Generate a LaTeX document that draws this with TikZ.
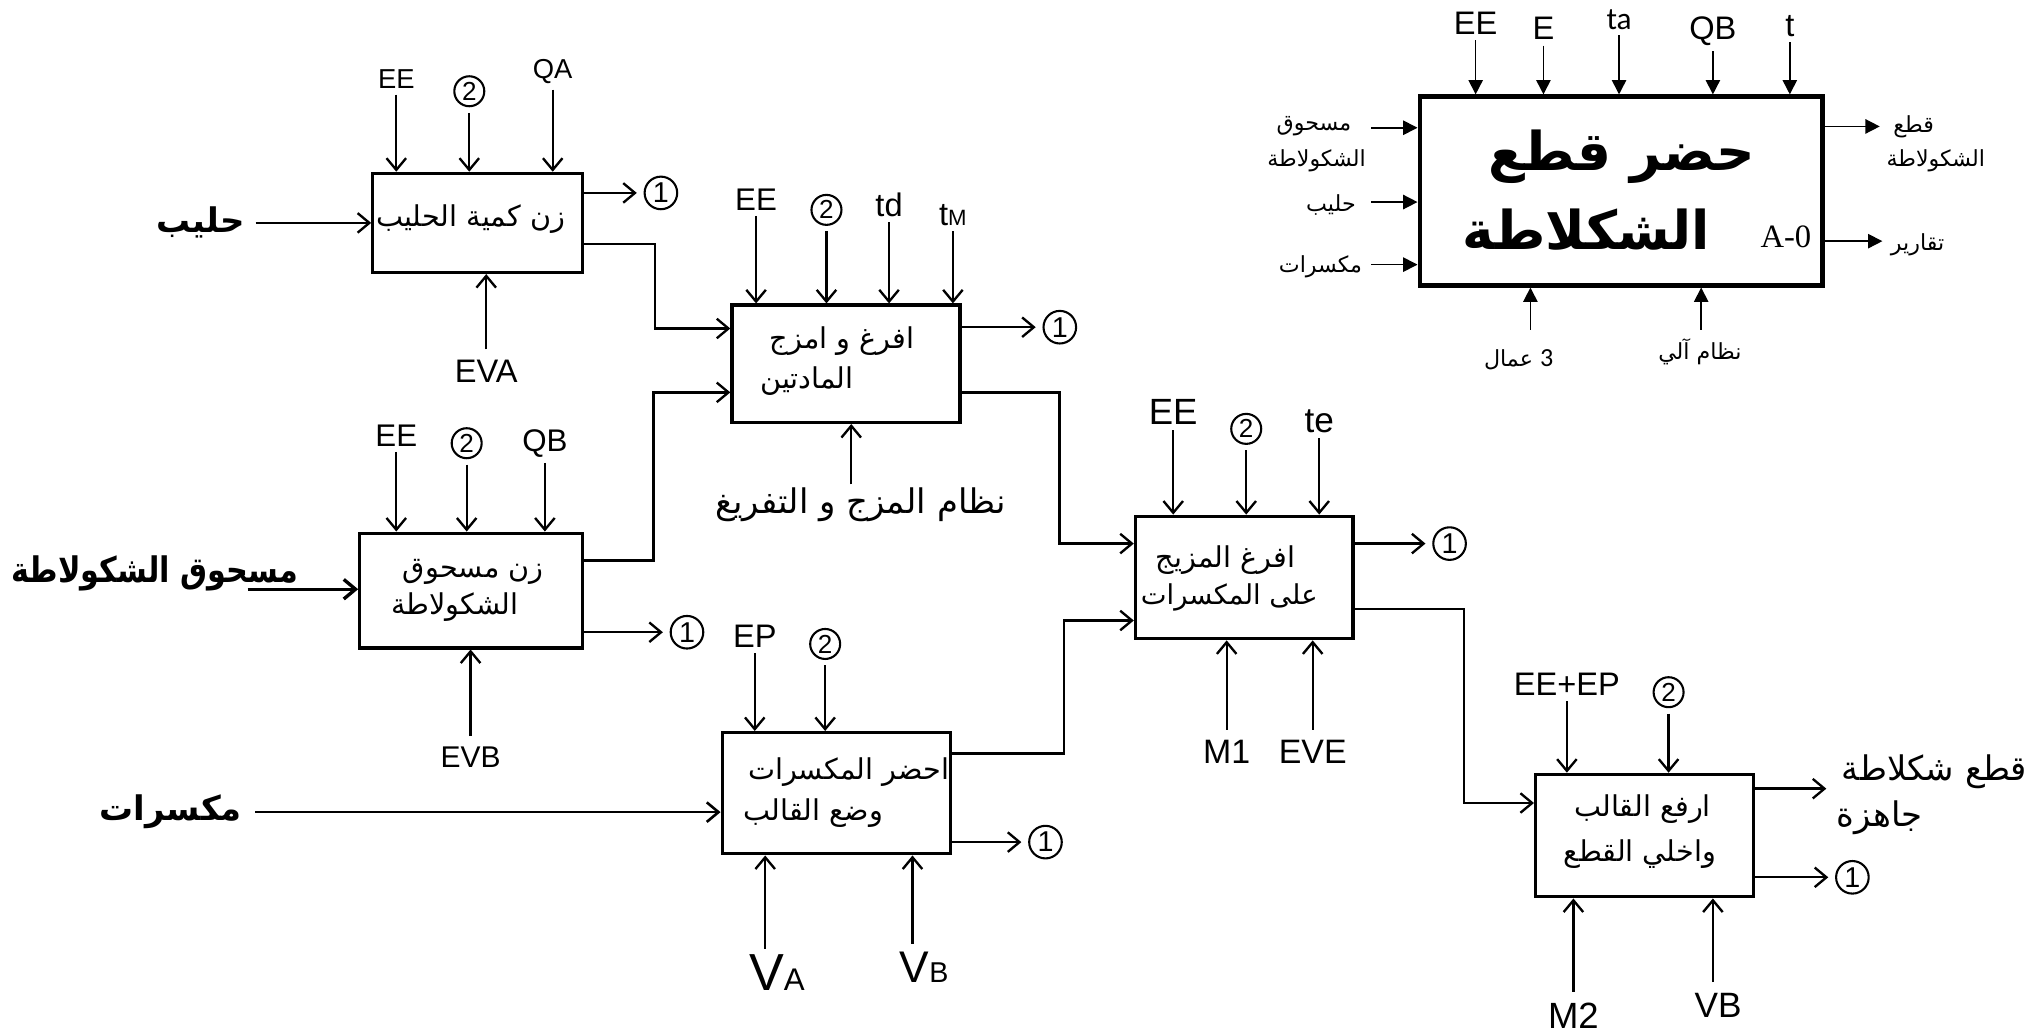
\documentclass[tikz,border=0pt]{standalone}
\usepackage{fontspec}
\setmainfont{Liberation Sans}
\newfontfamily\arabicfont[Script=Arabic]{DejaVu Sans}
\newfontfamily\timesfont{Liberation Serif}
\newfontfamily\calibfont{Carlito}
\TeXXeTstate=1
\usepackage{tikz}
\usetikzlibrary{arrows.meta, positioning}

\newcommand{\sz}[1]{\fontsize{#1}{#1}\selectfont}

\tikzset{
    box/.style={draw, line width=1.25pt, inner sep=0pt},
    arr/.style={-{Straight Barb[length=4.5pt,width=7.5pt]}, line width=0.9pt},
    arrz/.style={-{Triangle[length=5.5pt,width=5.5pt]}, line width=0.6pt},
    lab/.style={inner sep=2pt},
    mlab/.style={inner sep=4pt},
    ar/.style={inner sep=1pt, font=\arabicfont\sz{11pt}},
    one/.style={circle, draw, line width=0.8pt, inner sep=0pt, minimum size=12.5pt, outer sep=3pt, font=\sz{11pt}},
    two/.style={circle, draw, line width=0.8pt, inner sep=0pt, minimum size=11.5pt, outer sep=2.5pt, font=\sz{10pt}}
}

\begin{document}
\begin{tikzpicture}[x=0.5pt, y=-0.5pt]
    \fill[white] (0,0) rectangle (1568,792);
    \useasboundingbox (0,0) rectangle (1568,792);

    % the six activity boxes
    \node[box, minimum width=80.5pt, minimum height=38pt] (a1) at (366.5,171) {};
    \node[box, minimum width=87.5pt, minimum height=45pt] (a2) at (649,279) {};
    \node[box, minimum width=85.5pt, minimum height=44pt] (a3) at (361.5,453) {};
    \node[box, minimum width=83.5pt, minimum height=47pt] (a4) at (954.5,443) {};
    \node[box, minimum width=87.5pt, minimum height=46.5pt] (a5) at (641.5,608.5) {};
    \node[box, minimum width=83.5pt, minimum height=47pt] (a6) at (1261.5,641) {};

    \node[ar] (t1) at (361,168) {\beginR زن كمية الحليب\endR};
    \node[ar] (t2a) at (646,262) {\beginR افرغ و امزج\endR};
    \node[ar] (t2b) at (619,292) {\beginR المادتين\endR};
    \node[ar] (t3a) at (363,439) {\beginR زن مسحوق\endR};
    \node[ar] (t3b) at (349,466) {\beginR الشكولاطة\endR};
    \node[ar] (t4a) at (940,430) {\beginR افرغ المزيج\endR};
    \node[ar, font=\arabicfont\sz{10.5pt}] (t4b) at (943,458) {\beginR على المكسرات\endR};
    \node[ar] (t5a) at (651,592) {\beginR احضر المكسرات\endR};
    \node[ar] (t5b) at (624,624) {\beginR وضع القالب\endR};
    \node[ar] (t6a) at (1260,621) {\beginR ارفع القالب\endR};
    \node[ar] (t6b) at (1258,655) {\beginR واخلي القطع\endR};

    % box 1
    \node[lab, font=\sz{10.5pt}] (ee1) at (304,61) {EE};
    \node[two] (c1) at (360,70) {2};
    \node[lab, font=\sz{10.5pt}] (qa1) at (424,55) {QA};
    \draw[arr] (ee1) -- (ee1 |- a1.north);
    \draw[arr] (c1) -- (c1 |- a1.north);
    \draw[arr] (qa1) -- (qa1 |- a1.north);
    \node[ar, font=\arabicfont\bfseries\sz{13pt}, inner sep=4pt] (milk) at (154,171) {\beginR حليب\endR};
    \draw[arr] (milk) -- (milk -| a1.west);
    \node[one] (o1) at (507,148) {1};
    \draw[arr] (o1 -| a1.east) -- (o1);
    \draw[arr] ([yshift=-8pt]a1.east) -- ++(54,0) |- ([yshift=13.5pt]a2.west);
    \node[mlab, font=\sz{12.5pt}] (eva) at (373,285) {EVA};
    \draw[arr] (eva) -- (eva |- a1.south);

    % box 2
    \node[lab, font=\sz{12pt}] (ee2) at (580,153) {EE};
    \node[two] (c2) at (634,161) {2};
    \node[lab, font=\sz{12.5pt}] (td2) at (682,157) {td};
    \node[lab, font=\sz{12.5pt}] (tm2) at (731,165) {t{\sz{8.5pt}M}};
    \draw[arr] (ee2) -- (ee2 |- a2.north);
    \draw[arr] (c2) -- (c2 |- a2.north);
    \draw[arr] (td2) -- (td2 |- a2.north);
    \draw[arr] (tm2) -- (tm2 |- a2.north);
    \node[one] (o2) at (813,251) {1};
    \draw[arr] (o2 -| a2.east) -- (o2);
    \draw[arr] ([yshift=-11pt]a2.east) -- ++(75,0) |- ([yshift=13pt]a4.west);
    \node[ar, font=\arabicfont\sz{13pt}] (mixsys) at (660,387) {\beginR نظام المزج و التفريغ\endR};
    \draw[arr] ([xshift=-3.5pt]mixsys.north) -- ([xshift=-3.5pt]mixsys.north |- a2.south);

    % box 3
    \node[lab, font=\sz{12pt}] (ee3) at (304,334) {EE};
    \node[two] (c3) at (358,340) {2};
    \node[lab, font=\sz{12pt}] (qb3) at (418,340) {QB};
    \draw[arr] (ee3) -- (ee3 |- a3.north);
    \draw[arr] (c3) -- (c3 |- a3.north);
    \draw[arr] (qb3) -- (qb3 |- a3.north);
    \node[anchor=east, inner sep=0pt, font=\arabicfont\bfseries\sz{13.5pt}] (choc) at (229,440) {\scalebox{0.86}[1]{\beginR مسحوق الشكولاطة\endR}};
    \coordinate (chocin) at (190,452);
    \draw[arr, line width=1.3pt] (chocin) -- (chocin -| a3.west);
    \draw[arr] ([yshift=11.5pt]a3.east) -- ++(53,0) |- ([yshift=-11pt]a2.west);
    \node[one] (o3) at (527,485) {1};
    \draw[arr] (o3 -| a3.east) -- (o3);
    \node[mlab, font=\sz{11.5pt}] (evb) at (361,581) {EVB};
    \draw[arr] (evb) -- (evb |- a3.south);

    % box 4
    \node[lab, font=\sz{14pt}] (ee4) at (900,316) {EE};
    \node[two] (c4) at (956,329) {2};
    \node[lab, font=\sz{13.5pt}] (te4) at (1012,323) {te};
    \draw[arr] (ee4) -- (ee4 |- a4.north);
    \draw[arr] (c4) -- (c4 |- a4.north);
    \draw[arr] (te4) -- (te4 |- a4.north);
    \node[one] (o4) at (1112,417) {1};
    \draw[arr] (o4 -| a4.east) -- (o4);
    \draw[arr] ([yshift=-12pt]a4.east) -- ++(84,0) |- ([yshift=12.5pt]a6.west);
    \node[mlab, font=\sz{13pt}] (m1) at (941,577) {M1};
    \node[mlab, font=\sz{13pt}] (eve) at (1007,577) {EVE};
    \draw[arr] (m1) -- (m1 |- a4.south);
    \draw[arr] (eve) -- (eve |- a4.south);

    % box 5
    \node[lab, font=\sz{12.5pt}] (ep5) at (579,488) {EP};
    \node[two] (c5) at (633,494) {2};
    \draw[arr] (ep5) -- (ep5 |- a5.north);
    \draw[arr] (c5) -- (c5 |- a5.north);
    \node[ar, font=\arabicfont\bfseries\sz{13pt}, inner sep=5pt] (nuts) at (131,623) {\beginR مكسرات\endR};
    \draw[arr, line width=1pt] (nuts) -- (nuts -| a5.west);
    \draw[arr] ([yshift=15.25pt]a5.east) -- ++(86,0) |- ([yshift=-16.5pt]a4.west);
    \node[one] (o5) at (802,646) {1};
    \draw[arr] (o5 -| a5.east) -- (o5);
    \node[mlab, inner sep=2pt, font=\sz{20pt}] (va) at (596,746) {V{\sz{12pt}A}};
    \node[mlab, inner sep=3pt, font=\sz{17pt}] (vb) at (709,742) {V{\sz{11pt}B}};
    \draw[arr] ([xshift=-4.5pt]va.north) -- ([xshift=-4.5pt]va.north |- a5.south);
    \draw[arr] ([xshift=-4.5pt]vb.north) -- ([xshift=-4.5pt]vb.north |- a5.south);

    % box 6
    \node[lab, font=\sz{12.5pt}] (eep6) at (1202,525) {EE+EP};
    \node[two] (c6) at (1280,531) {2};
    \draw[arr] (eep6) -- (eep6 |- a6.north);
    \draw[arr] (c6) -- (c6 |- a6.north);
    \node[ar, font=\arabicfont\sz{13pt}] (ready1) at (1484,592) {\beginR قطع شكلاطة\endR};
    \node[ar, font=\arabicfont\sz{13pt}] (ready2) at (1442,627) {\beginR جاهزة\endR};
    \coordinate (pout) at (1401,605);
    \draw[arr] (pout -| a6.east) -- (pout);
    \node[one] (o6) at (1421,673) {1};
    \draw[arr] (o6 -| a6.east) -- (o6);
    \node[mlab, font=\sz{14pt}] (m2) at (1207,779) {M2};
    \node[mlab, font=\sz{13.5pt}] (vb6) at (1318,771) {VB};
    \draw[arr] (m2) -- (m2 |- a6.south);
    \draw[arr] ([xshift=-2pt]vb6.north) -- ([xshift=-2pt]vb6.north |- a6.south);

    % context box A-0
    \node[box, line width=1.6pt, minimum width=154.5pt, minimum height=72.5pt] (a0) at (1243.5,146.5) {};
    \node[inner sep=0pt, font=\arabicfont\bfseries\sz{20.5pt}] (ttl1) at (1244,120) {\beginR حضر قطع\endR};
    \node[inner sep=0pt, font=\arabicfont\bfseries\sz{20.5pt}] (ttl2) at (1217,176) {\beginR الشكلاطة\endR};
    \node[inner sep=0pt, font=\timesfont\sz{12.5pt}] (aname) at (1370,182) {A-0};

    \node[lab, font=\sz{12.5pt}] (ee0) at (1132,18) {EE};
    \node[lab, font=\sz{12.5pt}] (e0) at (1184,22) {E};
    \node[lab, font=\calibfont\sz{12pt}] (ta0) at (1242,15) {ta};
    \node[lab, font=\sz{12.5pt}] (qb0) at (1314,24) {QB};
    \node[lab, font=\sz{12.5pt}] (t0) at (1373,20) {t};
    \draw[arrz] (ee0) -- (ee0 |- a0.north);
    \draw[arrz] (e0) -- (e0 |- a0.north);
    \draw[arrz] (ta0) -- (ta0 |- a0.north);
    \draw[arrz] (qb0) -- (qb0 |- a0.north);
    \draw[arrz] (t0) -- (t0 |- a0.north);

    \node[ar, font=\arabicfont\sz{8.5pt}] (pw0a) at (1008,97) {\beginR مسحوق\endR};
    \node[ar, font=\arabicfont\sz{8.5pt}] (pw0b) at (1010,123) {\beginR الشكولاطة\endR};
    \node[ar, font=\arabicfont\sz{8.5pt}] (mk0) at (1021,157) {\beginR حليب\endR};
    \node[ar, font=\arabicfont\sz{8.5pt}] (nt0) at (1013,205) {\beginR مكسرات\endR};
    \coordinate (i1) at (1052,98);
    \coordinate (i2) at (1052,155);
    \coordinate (i3) at (1052,203);
    \draw[arrz] (i1) -- (i1 -| a0.west);
    \draw[arrz] (i2) -- (i2 -| a0.west);
    \draw[arrz] (i3) -- (i3 -| a0.west);

    \node[ar, font=\arabicfont\sz{8.5pt}] (pc0a) at (1468,97) {\beginR قطع\endR};
    \node[ar, font=\arabicfont\sz{8.5pt}] (pc0b) at (1485,123) {\beginR الشكولاطة\endR};
    \node[ar, font=\arabicfont\sz{8.5pt}] (rep0) at (1471,188) {\beginR تقارير\endR};
    \coordinate (r1) at (1442,97);
    \coordinate (r2) at (1444,185);
    \draw[arrz] (r1 -| a0.east) -- (r1);
    \draw[arrz] (r2 -| a0.east) -- (r2);

    \node[ar, font=\arabicfont\sz{8.5pt}] (wk0) at (1165,276) {\beginR{\calibfont\sz{10pt}3} عمال\endR};
    \node[ar, font=\arabicfont\sz{8.5pt}] (auto0) at (1304,270) {\beginR نظام آلي\endR};
    \coordinate (b1) at (1174,253);
    \coordinate (b2) at (1305,253);
    \draw[arrz] (b1) -- (b1 |- a0.south);
    \draw[arrz] (b2) -- (b2 |- a0.south);
\end{tikzpicture}
\end{document}
